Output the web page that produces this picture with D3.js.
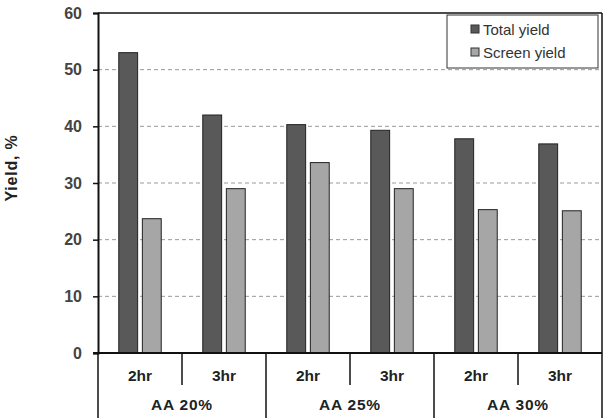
<!DOCTYPE html>
<html>
<head>
<meta charset="utf-8">
<script src="https://cdn.jsdelivr.net/npm/d3@7"></script>
<style>
  body { margin: 0; background: #fff; }
  svg { display: block; font-family: "Liberation Sans", Arial, sans-serif; }
</style>
</head>
<body>
<div id="chart"></div>
<script>
// data
var groups = ["AA 20%", "AA 25%", "AA 30%"];
var times = ["2hr", "3hr"];
var seriesNames = ["Total yield", "Screen yield"];
var totalYield = [53.0, 42.0, 40.3, 39.3, 37.8, 36.9];
var screenYield = [23.7, 29.0, 33.6, 29.0, 25.3, 25.1];
var yTicks = [0, 10, 20, 30, 40, 50, 60];

var colors = ["#595959", "#a6a6a6"];

var W = 615, H = 418;
var margin = {left: 98, right: 13, top: 13, bottom: 65};

var svg = d3.select("#chart").append("svg")
  .attr("width", W)
  .attr("height", H);

svg.append("rect").attr("width", W).attr("height", H).attr("fill", "white");

var x0 = margin.left, x1 = W - margin.right;
var yTop = margin.top, yBot = H - margin.bottom;

// one band per group/time pair
var cats = [];
groups.forEach(function (g) {
  times.forEach(function (t) { cats.push(g + "|" + t); });
});

var x = d3.scaleBand().domain(cats).range([x0, x1]).paddingInner(0).paddingOuter(0);
var xs = d3.scaleBand().domain(seriesNames).range([0, x.bandwidth()])
  .paddingInner(0.2).paddingOuter(0.88);
var y = d3.scaleLinear().domain([0, 60]).range([yBot, yTop]);

// gridlines
svg.append("g").selectAll("line")
  .data(yTicks.filter(function (d) { return d > 0 && d < 60; }))
  .enter().append("line")
  .attr("x1", x0).attr("x2", x1)
  .attr("y1", function (d) { return y(d); })
  .attr("y2", function (d) { return y(d); })
  .attr("stroke", "#999")
  .attr("stroke-width", 1)
  .attr("stroke-dasharray", "4,3");

// bars
var rows = cats.map(function (c, i) {
  return {cat: c, vals: [totalYield[i], screenYield[i]]};
});

var bars = svg.append("g").selectAll("g")
  .data(rows).enter().append("g")
  .attr("transform", function (d) { return "translate(" + x(d.cat) + ",0)"; });

bars.selectAll("rect")
  .data(function (d) { return d.vals.map(function (v, j) { return {s: seriesNames[j], v: v, j: j}; }); })
  .enter().append("rect")
  .attr("x", function (d) { return xs(d.s); })
  .attr("width", xs.bandwidth())
  .attr("y", function (d) { return y(d.v); })
  .attr("height", function (d) { return yBot - y(d.v); })
  .attr("fill", function (d) { return colors[d.j]; })
  .attr("stroke", "#222")
  .attr("stroke-width", 1);

// frame
svg.append("line").attr("x1", x0).attr("x2", x1).attr("y1", yTop).attr("y2", yTop)
  .attr("stroke", "#111").attr("stroke-width", 1.5);
svg.append("line").attr("x1", x1).attr("x2", x1).attr("y1", yTop).attr("y2", yBot)
  .attr("stroke", "#111").attr("stroke-width", 1.5);

// y axis
var yAxis = d3.axisLeft(y).tickValues(yTicks).tickSize(5).tickPadding(11);
var ya = svg.append("g").attr("transform", "translate(" + x0 + ",0)").call(yAxis);
ya.select(".domain").attr("stroke", "#111").attr("stroke-width", 2);
ya.selectAll(".tick line").attr("stroke", "#111").attr("stroke-width", 1.5);
ya.selectAll("text")
  .attr("font-size", 16).attr("font-weight", "bold").attr("fill", "#444")
  .attr("font-family", "Liberation Sans, Arial, sans-serif");

svg.append("text")
  .attr("transform", "translate(17,168) rotate(-90)")
  .attr("text-anchor", "middle")
  .attr("font-size", 16).attr("font-weight", "bold").attr("fill", "#222")
  .attr("letter-spacing", 0.8)
  .text("Yield, %");

// bottom axis line
svg.append("line").attr("x1", x0 - 5).attr("x2", x1).attr("y1", yBot).attr("y2", yBot)
  .attr("stroke", "#111").attr("stroke-width", 2);

// category dividers
var cax = svg.append("g");
cats.forEach(function (c, i) {
  var xx = x(c);
  var major = i % 2 === 0;
  cax.append("line")
    .attr("x1", xx).attr("x2", xx)
    .attr("y1", yBot).attr("y2", major ? H : yBot + 32)
    .attr("stroke", "#111").attr("stroke-width", 1.5);
});
cax.append("line").attr("x1", x1).attr("x2", x1).attr("y1", yBot).attr("y2", H)
  .attr("stroke", "#111").attr("stroke-width", 1.5);

cax.selectAll("text.t")
  .data(cats).enter().append("text").attr("class", "t")
  .attr("x", function (d) { return x(d) + x.bandwidth() / 2; })
  .attr("y", yBot + 28)
  .attr("text-anchor", "middle")
  .attr("font-size", 15.5).attr("font-weight", "bold").attr("fill", "#222")
  .text(function (d) { return d.split("|")[1]; });

cax.selectAll("text.g")
  .data(groups).enter().append("text").attr("class", "g")
  .attr("x", function (g) { return x(g + "|" + times[0]) + x.bandwidth(); })
  .attr("y", yBot + 57)
  .attr("text-anchor", "middle")
  .attr("font-size", 15.5).attr("font-weight", "bold").attr("fill", "#222")
  .attr("letter-spacing", 0.8)
  .text(function (g) { return g; });

// legend
var lg = svg.append("g").attr("transform", "translate(447,15)");
lg.append("rect").attr("width", 151).attr("height", 53)
  .attr("fill", "white").attr("stroke", "#333").attr("stroke-width", 1);
seriesNames.forEach(function (s, i) {
  lg.append("rect")
    .attr("x", 24).attr("y", 10 + i * 23)
    .attr("width", 8).attr("height", 8)
    .attr("fill", colors[i]).attr("stroke", "#333").attr("stroke-width", 1);
  lg.append("text")
    .attr("x", 36).attr("y", 20 + i * 23)
    .attr("font-size", 15).attr("fill", "#333")
    .text(s);
});
</script>
</body>
</html>
